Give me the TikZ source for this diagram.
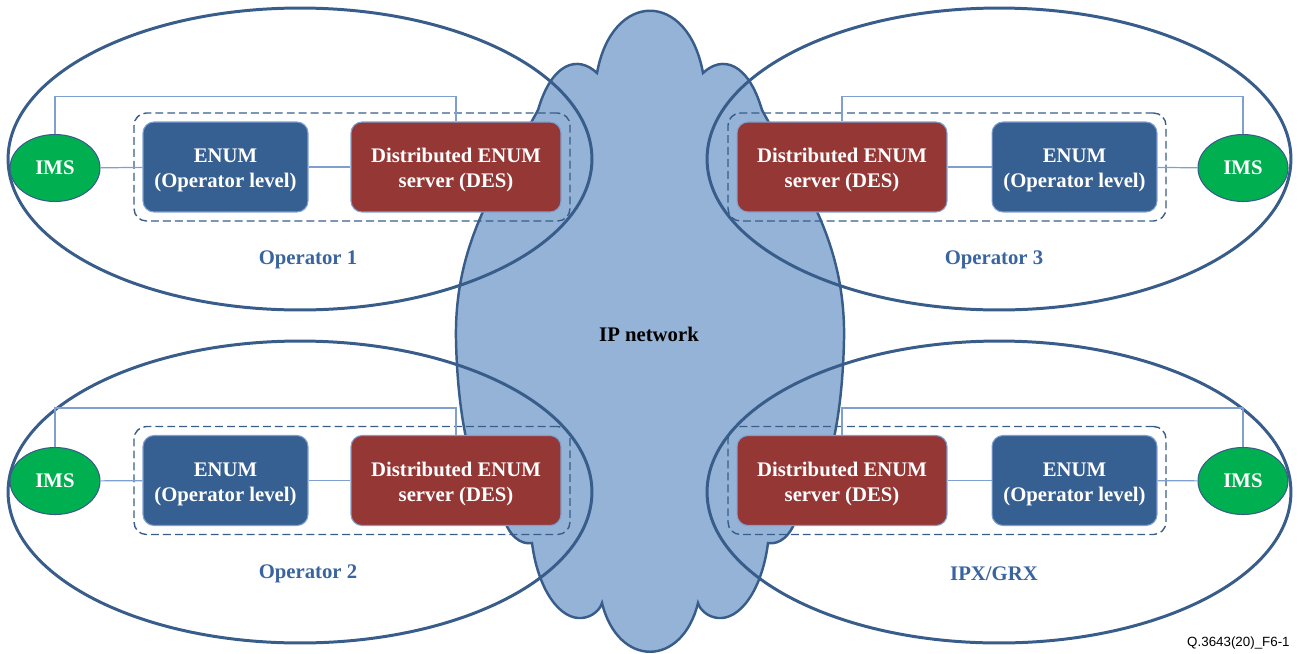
\documentclass[tikz,border=0pt]{standalone}
\usepackage{fontspec}
\setmainfont{Liberation Serif}
\newfontfamily\footfont{Liberation Sans}
\usetikzlibrary{shapes.geometric, fit}

\definecolor{cloudfill}{HTML}{95B3D7}
\definecolor{edgeblue}{HTML}{385D8A}
\definecolor{enumblue}{HTML}{376092}
\definecolor{desred}{HTML}{953735}
\definecolor{imsgreen}{HTML}{00B050}
\definecolor{linkblue}{HTML}{7F9FD0}
\definecolor{labelblue}{HTML}{3A64A0}

\begin{document}
\begin{tikzpicture}[x=0.02cm, y=-0.02cm,
    txt/.style={font=\bfseries\fontsize{11.8}{14.2}\selectfont, align=center},
    opzone/.style={ellipse, draw=edgeblue, line width=1.7pt, minimum width=11.68cm, minimum height=6.04cm, inner sep=0pt},
    ims/.style={ellipse, draw=edgeblue, line width=0.6pt, fill=imsgreen, text=white, txt, minimum width=1.8cm, minimum height=1.34cm, inner sep=0pt},
    enumbox/.style={rectangle, rounded corners=0.22cm, draw=linkblue, line width=0.6pt, fill=enumblue, text=white, txt, minimum width=3.3cm, minimum height=1.8cm, text height=0.91cm},
    desbox/.style={enumbox, fill=desred, minimum width=4.2cm},
    dashbox/.style={draw=edgeblue, line width=0.8pt, dash pattern=on 4.5pt off 2.3pt, rounded corners=0.25cm, inner sep=0.17cm},
    link/.style={draw=linkblue, line width=0.7pt},
    oplabel/.style={txt, text=labelblue}]

    \useasboundingbox (0,0) rectangle (1298,653);

    % --- IP network cloud ---
    \draw[fill=cloudfill, draw=edgeblue, line width=1.4pt]
        (597,73) .. controls (612,-10) and (688,-10) .. (703,73)
        .. controls (722,55) and (748,62) .. (762,110)
        .. controls (800,180) and (846,240) .. (844,340)
        .. controls (842,430) and (825,495) .. (795,522)
        .. controls (790,535) and (780,545) .. (768,543)
        .. controls (762,590) and (740,620) .. (718,618)
        .. controls (708,617) and (700,610) .. (698,603)
        .. controls (682,668) and (618,668) .. (602,603)
        .. controls (600,610) and (592,617) .. (582,618)
        .. controls (560,620) and (538,590) .. (532,543)
        .. controls (520,545) and (510,535) .. (505,522)
        .. controls (475,495) and (458,430) .. (456,340)
        .. controls (454,240) and (500,180) .. (538,110)
        .. controls (552,62) and (578,55) .. (597,73) -- cycle;
    \node[txt] (ipnet) at (649,334) {IP network};

    % --- Operator domains ---
    \node[opzone] (op1) at (300,159) {};
    \node[opzone] (op3) at (999,159) {};
    \node[opzone] (op2) at (300,492) {};
    \node[opzone] (ipx) at (999,492) {};

    % --- Operator 1 (top left) ---
    \node[ims] (ims1) at (55,168) {IMS};
    \node[enumbox] (enum1) at (225.5,167) {ENUM\\(Operator level)};
    \node[desbox] (des1) at (456,167) {Distributed ENUM\\server (DES)};
    \node[dashbox, fit=(enum1)(des1)] (grp1) {};
    \node[oplabel] (lab1) at (308,260) {Operator 1};
    \draw[link] (ims1) -- (enum1);
    \draw[link] (enum1) -- (des1);
    \draw[link] (ims1.north) |- ([yshift=0.5cm]des1.north) -- (des1.north);

    % --- Operator 3 (top right) ---
    \node[desbox] (des3) at (842,167) {Distributed ENUM\\server (DES)};
    \node[enumbox] (enum3) at (1074.5,167) {ENUM\\(Operator level)};
    \node[ims] (ims3) at (1243,168) {IMS};
    \node[dashbox, fit=(des3)(enum3)] (grp3) {};
    \node[oplabel] (lab3) at (994,260) {Operator 3};
    \draw[link] (des3) -- (enum3);
    \draw[link] (enum3) -- (ims3);
    \draw[link] (ims3.north) |- ([yshift=0.5cm]des3.north) -- (des3.north);

    % --- Operator 2 (bottom left) ---
    \node[ims] (ims2) at (55,481) {IMS};
    \node[enumbox] (enum2) at (225.5,480.5) {ENUM\\(Operator level)};
    \node[desbox] (des2) at (456,480.5) {Distributed ENUM\\server (DES)};
    \node[dashbox, fit=(enum2)(des2)] (grp2) {};
    \node[oplabel] (lab2) at (308,574) {Operator 2};
    \draw[link] (ims2) -- (enum2);
    \draw[link] (enum2) -- (des2);
    \draw[link] (ims2.north) |- ([yshift=0.54cm]des2.north) -- (des2.north);

    % --- IPX/GRX (bottom right) ---
    \node[desbox] (des4) at (842,480.5) {Distributed ENUM\\server (DES)};
    \node[enumbox] (enum4) at (1074.5,480.5) {ENUM\\(Operator level)};
    \node[ims] (ims4) at (1243,481) {IMS};
    \node[dashbox, fit=(des4)(enum4)] (grp4) {};
    \node[oplabel] (lab4) at (994,574) {IPX/GRX};
    \draw[link] (des4) -- (enum4);
    \draw[link] (enum4) -- (ims4);
    \draw[link] (ims4.north) |- ([yshift=0.54cm]des4.north) -- (des4.north);

    % figure number
    \node[anchor=south east, font=\footfont\fontsize{7.6}{9}\selectfont, inner sep=0pt] (figno) at (1290,650) {Q.3643(20)\_F6-1};

\end{tikzpicture}
\end{document}
